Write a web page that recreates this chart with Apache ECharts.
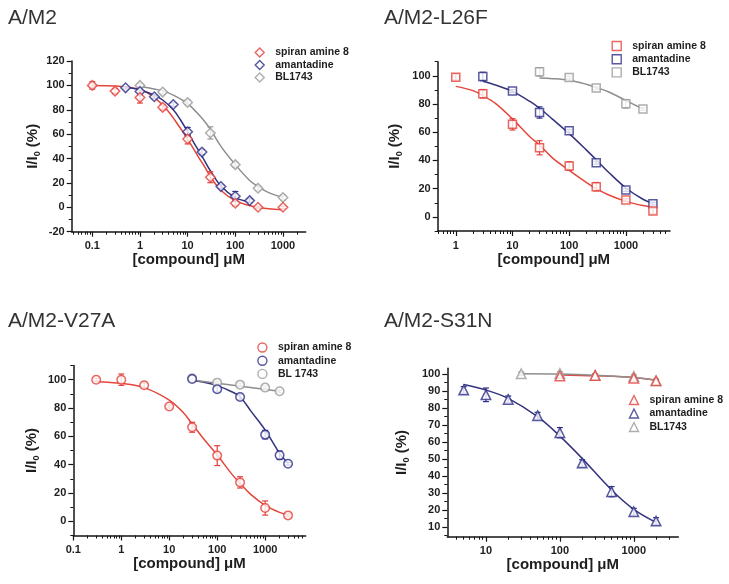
<!DOCTYPE html>
<html><head><meta charset="utf-8">
<script src="https://cdn.jsdelivr.net/npm/echarts@6/dist/echarts.min.js"></script>
<style>html,body{margin:0;padding:0;background:#fff}#c{width:729px;height:584px}</style>
</head><body><div id="c"></div>
<script>
// ---------- Panel 1: A/M2 ----------
const p1_spiran_x = [0.1, 0.3, 1, 3, 10, 30, 100, 300, 1000];
const p1_spiran_y = [100, 95.3, 90, 82, 56, 24.7, 3.3, 0, 0];
const p1_spiran_e = [3, 2, 4.5, 2, 4, 4.5, 2, 1, 1];
const p1_amant_x = [0.5, 1, 2, 5, 10, 20, 50, 100, 200];
const p1_amant_y = [98, 95, 90.7, 84.3, 62, 45.3, 17, 9, 5.5];
const p1_amant_e = [1, 3, 1.5, 1.5, 3.5, 2, 1.5, 4, 1.5];
const p1_bl_x = [1, 3, 10, 30, 100, 300, 1000];
const p1_bl_y = [100, 94.5, 86, 61, 35, 15.7, 8];
const p1_bl_e = [1.5, 1.5, 2, 5, 2, 2, 2];
const p1_fit_spiran_x = [0.1, 0.3, 1, 2, 3.5, 5.5, 10, 17, 23, 32, 50, 100, 250, 1000];
const p1_fit_spiran_y = [100, 99.5, 96.5, 90, 81, 71, 56, 41, 33, 23.5, 14, 5.5, 0.5, -2];
const p1_fit_amant_x = [0.5, 1, 2, 3, 5, 7, 10, 15, 20, 30, 50, 100, 200];
const p1_fit_amant_y = [98.5, 96.5, 92, 88, 80, 72, 62, 50, 42, 30, 17.5, 8, 4.5];
const p1_fit_bl_x = [1, 2, 3, 5, 10, 20, 30, 50, 100, 200, 300, 500, 1000];
const p1_fit_bl_y = [99, 97, 95.5, 92, 85, 73, 64, 50, 35, 22, 17, 12, 8];
const p1_xticks = [0.1, 1, 10, 100, 1000];
const p1_yticks = [-20, 0, 20, 40, 60, 80, 100, 120];
const p1_yminor = [-10, 10, 30, 50, 70, 90, 110];

// ---------- Panel 2: A/M2-L26F ----------
const p2_spiran_x = [1, 3, 10, 30, 100, 300, 1000, 3000];
const p2_spiran_y = [99, 87.3, 65.6, 49, 36, 21.4, 12, 4.2];
const p2_spiran_e = [2, 3, 4, 5, 3, 3, 1, 2];
const p2_amant_x = [3, 10, 30, 100, 300, 1000, 3000];
const p2_amant_y = [99.5, 89.2, 74, 61, 38.4, 19, 9.4];
const p2_amant_e = [3, 1, 4, 1, 1, 1, 1];
const p2_bl_x = [30, 100, 300, 1000, 2000];
const p2_bl_y = [102.8, 98.8, 91.3, 80.2, 76.5];
const p2_bl_e = [3, 1, 1, 3, 1];
const p2_fit_spiran_x = [1, 2, 3, 5, 10, 20, 30, 50, 100, 200, 300, 500, 1000, 2000, 3000];
const p2_fit_spiran_y = [92.5, 89.5, 86, 80.5, 69.5, 57, 51, 42, 33, 24.5, 20, 15.5, 11, 8, 7];
const p2_fit_amant_x = [3, 5, 10, 20, 30, 50, 100, 200, 300, 500, 1000, 2000, 3000];
const p2_fit_amant_y = [96.2, 93.5, 89, 82, 77, 69.5, 59, 47.5, 40.5, 31.5, 20.5, 12.5, 9.6];
const p2_fit_bl_x = [30, 50, 100, 200, 300, 500, 1000, 2000];
const p2_fit_bl_y = [98.4, 98, 96.8, 94, 91.7, 88.5, 82.5, 76.5];
const p2_xticks = [1, 10, 100, 1000];
const p2_yticks = [0, 20, 40, 60, 80, 100];
const p2_yminor = [-10, 10, 30, 50, 70, 90, 110];

// ---------- Panel 3: A/M2-V27A ----------
const p3_spiran_x = [0.3, 1, 3, 10, 30, 100, 300, 1000, 3000];
const p3_spiran_y = [100, 100, 96, 81, 66.4, 46.4, 27.5, 9.4, 4.2];
const p3_spiran_e = [1, 4, 2, 1, 3.5, 7, 4, 5, 1];
const p3_amant_x = [30, 100, 300, 1000, 2000, 3000];
const p3_amant_y = [100.5, 93.2, 87.8, 61.2, 46.6, 40.7];
const p3_amant_e = [1, 2, 2, 3, 3, 1];
const p3_bl_x = [30, 100, 300, 1000, 2000];
const p3_bl_y = [101, 97.9, 96.5, 94.4, 91.8];
const p3_bl_e = [1, 1, 1, 1, 1];
const p3_fit_spiran_x = [0.3, 1, 3, 10, 20, 30, 50, 100, 200, 300, 500, 1000, 2000, 3000];
const p3_fit_spiran_y = [98.6, 97.4, 94.4, 85.6, 76.5, 68.7, 59, 46.8, 33.5, 26.8, 19, 11.3, 6.3, 4.5];
const p3_fit_amant_x = [30, 50, 100, 200, 300, 500, 1000, 2000, 3000];
const p3_fit_amant_y = [99.3, 98.4, 95.8, 91.5, 88, 78, 64.5, 48, 41];
const p3_fit_bl_x = [30, 2000];
const p3_fit_bl_y = [99.8, 91.8];
const p3_xticks = [0.1, 1, 10, 100, 1000];
const p3_yticks = [0, 20, 40, 60, 80, 100];
const p3_yminor = [-10, 10, 30, 50, 70, 90, 110];

// ---------- Panel 4: A/M2-S31N ----------
const p4_spiran_x = [100, 300, 1000, 2000];
const p4_spiran_y = [98.8, 99.2, 97.6, 96];
const p4_spiran_e = [1, 1, 1, 1];
const p4_amant_x = [5, 10, 20, 50, 100, 200, 500, 1000, 2000];
const p4_amant_y = [90.6, 87.8, 85.1, 75.5, 65.5, 47.6, 30.8, 19, 13.5];
const p4_amant_e = [2, 4, 2, 2, 3, 2, 3, 2, 2];
const p4_bl_x = [30, 100, 300, 1000, 2000];
const p4_bl_y = [100.2, 100.4, 99.2, 98.6, 96];
const p4_bl_e = [1, 1, 1, 1, 1];
const p4_fit_spiran_x = [100, 300, 1000, 2000];
const p4_fit_spiran_y = [99.5, 99, 98, 96.3];
const p4_fit_amant_x = [5, 10, 20, 50, 100, 200, 500, 1000, 2000];
const p4_fit_amant_y = [93.9, 90.6, 85.7, 74.9, 63.5, 50.4, 31.8, 20.4, 12.7];
const p4_fit_bl_x = [30, 100, 300, 1000, 2000];
const p4_fit_bl_y = [100.2, 100, 99.3, 98, 96.3];
const p4_xticks = [10, 100, 1000];
const p4_yticks = [10, 20, 30, 40, 50, 60, 70, 80, 90, 100];
const p4_yminor = [5, 15, 25, 35, 45, 55, 65, 75, 85, 95];

const titles = ['A/M2', 'A/M2-L26F', 'A/M2-V27A', 'A/M2-S31N'];
const names_spiran = 'spiran amine 8';
const names_amant = 'amantadine';
const names_bl = ['BL1743', 'BL1743', 'BL 1743', 'BL1743'];

// ---------- styling / layout ----------
const FONT = '"Liberation Sans", Arial, Helvetica, sans-serif';
const RED = '#e3403a', NAVY = '#2e2e88', GRAY = '#9a9a9a';
const RED_L = '#e5463c', NAVY_L = '#33337f', GRAY_L = '#8e8e8e';
const AX = '#151515';

const layout = [
  {grid:{left:71.7, top:61, width:234, height:170.7}, xmin:0.037, xmax:3000, ymin:-20, ymax:120, symbol:'diamond', ssize:9.5,
   title:{left:8, top:8}, legend:{cx:259, top:47, gap:1.5}, ynameGap:30},
  {grid:{left:437.7, top:61.7, width:232.3, height:169.3}, xmin:0.48, xmax:6000, ymin:-10, ymax:110, symbol:'rect', ssize:8,
   title:{left:384, top:8}, legend:{cx:616, top:40.5, gap:2.2}, ynameGap:34},
  {grid:{left:73.3, top:365.5, width:232.4, height:170}, xmin:0.1, xmax:7000, ymin:-10, ymax:110, symbol:'circle', ssize:8.5,
   title:{left:8, top:311}, legend:{cx:261.7, top:342, gap:2.2}, ynameGap:32},
  {grid:{left:447.3, top:368.3, width:231, height:168.4}, xmin:3, xmax:4000, ymin:4.3, ymax:103.4, symbol:'triangle', ssize:9.5,
   title:{left:384, top:311}, legend:{cx:633.3, top:394.5, gap:2.5}, ynameGap:36}
];

const panels = [
  {xt:p1_xticks, yt:p1_yticks, ym:p1_yminor,
   pts:[[p1_spiran_x,p1_spiran_y,p1_spiran_e],[p1_amant_x,p1_amant_y,p1_amant_e],[p1_bl_x,p1_bl_y,p1_bl_e]],
   fits:[[p1_fit_spiran_x,p1_fit_spiran_y],[p1_fit_amant_x,p1_fit_amant_y],[p1_fit_bl_x,p1_fit_bl_y]]},
  {xt:p2_xticks, yt:p2_yticks, ym:p2_yminor,
   pts:[[p2_spiran_x,p2_spiran_y,p2_spiran_e],[p2_amant_x,p2_amant_y,p2_amant_e],[p2_bl_x,p2_bl_y,p2_bl_e]],
   fits:[[p2_fit_spiran_x,p2_fit_spiran_y],[p2_fit_amant_x,p2_fit_amant_y],[p2_fit_bl_x,p2_fit_bl_y]]},
  {xt:p3_xticks, yt:p3_yticks, ym:p3_yminor,
   pts:[[p3_spiran_x,p3_spiran_y,p3_spiran_e],[p3_amant_x,p3_amant_y,p3_amant_e],[p3_bl_x,p3_bl_y,p3_bl_e]],
   fits:[[p3_fit_spiran_x,p3_fit_spiran_y],[p3_fit_amant_x,p3_fit_amant_y],[p3_fit_bl_x,p3_fit_bl_y]]},
  {xt:p4_xticks, yt:p4_yticks, ym:p4_yminor,
   pts:[[p4_spiran_x,p4_spiran_y,p4_spiran_e],[p4_amant_x,p4_amant_y,p4_amant_e],[p4_bl_x,p4_bl_y,p4_bl_e]],
   fits:[[p4_fit_spiran_x,p4_fit_spiran_y],[p4_fit_amant_x,p4_fit_amant_y],[p4_fit_bl_x,p4_fit_bl_y]]}
];

function logMinors(min, max) {
  const out = [];
  for (let k = Math.floor(Math.log10(min)); k <= Math.ceil(Math.log10(max)); k++) {
    for (let m = 2; m <= 9; m++) {
      const v = m * Math.pow(10, k);
      if (v > min && v < max) out.push(v);
    }
  }
  return out;
}
function zip2(a, b) { return a.map((v, i) => [v, b[i]]); }
function zip3(a, b, c) { return a.map((v, i) => [v, b[i], c[i]]); }
function fmtNum(v) { return String(Number(Number(v).toPrecision(3))); }

function errRender(color) {
  return function (params, api) {
    const x = api.value(0), y = api.value(1), e = api.value(2);
    const top = api.coord([x, y + e]);
    const bot = api.coord([x, y - e]);
    const w = 3;
    const style = {stroke: color, lineWidth: 1.2, fill: null};
    return {type: 'group', children: [
      {type: 'line', shape: {x1: top[0], y1: top[1], x2: bot[0], y2: bot[1]}, style: style},
      {type: 'line', shape: {x1: top[0] - w, y1: top[1], x2: top[0] + w, y2: top[1]}, style: style},
      {type: 'line', shape: {x1: bot[0] - w, y1: bot[1], x2: bot[0] + w, y2: bot[1]}, style: style}
    ]};
  };
}

const option = {
  backgroundColor: '#fff', animation: false,
  title: [], legend: [], grid: [], xAxis: [], yAxis: [], series: []
};

const tickLabelStyle = {fontSize: 11, fontWeight: 'bold', color: '#1e1e1e', fontFamily: FONT};

panels.forEach((p, i) => {
  const L = layout[i];
  option.grid.push(Object.assign({containLabel: false}, L.grid));
  option.title.push({text: titles[i], left: L.title.left, top: L.title.top, padding: 0,
    textStyle: {fontSize: 21, fontWeight: 'normal', color: '#333', fontFamily: FONT}});

  const xa = option.xAxis.length, ya = option.yAxis.length;
  option.xAxis.push({
    type: 'log', logBase: 10, gridIndex: i, min: L.xmin, max: L.xmax, position: 'bottom',
    axisLine: {show: true, onZero: false, lineStyle: {color: AX, width: 1.5}},
    axisTick: {show: true, inside: false, length: 5, customValues: p.xt, lineStyle: {color: AX, width: 1.2}},
    axisLabel: {show: true, customValues: p.xt, margin: 9, formatter: fmtNum, ...tickLabelStyle},
    splitLine: {show: false}, minorTick: {show: false},
    name: '[compound] \u03bcM', nameLocation: 'middle', nameGap: 19,
    nameTextStyle: {fontSize: 15, fontWeight: 'bold', color: '#1e1e1e', fontFamily: FONT}
  });
  option.xAxis.push({
    type: 'log', logBase: 10, gridIndex: i, min: L.xmin, max: L.xmax, position: 'bottom',
    axisLine: {show: false, onZero: false},
    axisTick: {show: true, inside: false, length: 3, customValues: logMinors(L.xmin, L.xmax), lineStyle: {color: AX, width: 1}},
    axisLabel: {show: false}, splitLine: {show: false}
  });
  option.yAxis.push({
    type: 'value', gridIndex: i, min: L.ymin, max: L.ymax, position: 'left',
    axisLine: {show: true, onZero: false, lineStyle: {color: AX, width: 1.5}},
    axisTick: {show: true, inside: false, length: 5, customValues: p.yt, lineStyle: {color: AX, width: 1.2}},
    axisLabel: {show: true, customValues: p.yt, margin: 7, ...tickLabelStyle},
    splitLine: {show: false},
    name: 'I/I{s|0} (%)', nameLocation: 'middle', nameGap: L.ynameGap,
    nameTextStyle: {fontSize: 15, fontWeight: 'bold', color: '#1e1e1e', fontFamily: FONT, lineHeight: 18,
      rich: {s: {fontSize: 9, fontWeight: 'bold', color: '#1e1e1e', fontFamily: FONT, verticalAlign: 'bottom', lineHeight: 9}}}
  });
  option.yAxis.push({
    type: 'value', gridIndex: i, min: L.ymin, max: L.ymax, position: 'left',
    axisLine: {show: false, onZero: false},
    axisTick: {show: true, inside: false, length: 3, customValues: p.ym, lineStyle: {color: AX, width: 1}},
    axisLabel: {show: false}, splitLine: {show: false}
  });

  const cols = [RED, NAVY, GRAY], lcols = [RED_L, NAVY_L, GRAY_L];
  const nm = [names_spiran, names_amant, names_bl[i]].map(n => n + '#' + i);
  p.fits.forEach((f, k) => {
    option.series.push({type: 'line', name: 'fit' + k + '#' + i, xAxisIndex: xa, yAxisIndex: ya,
      data: zip2(f[0], f[1]), smooth: 0.35, showSymbol: false, symbol: 'none', silent: true, z: 2,
      lineStyle: {color: lcols[k], width: 1.5}});
  });
  p.pts.forEach((d, k) => {
    option.series.push({type: 'custom', name: 'err' + k + '#' + i, xAxisIndex: xa, yAxisIndex: ya,
      data: zip3(d[0], d[1], d[2]), encode: {x: 0, y: 1}, renderItem: errRender(cols[k]), silent: true, z: 3});
  });
  p.pts.forEach((d, k) => {
    option.series.push({type: 'scatter', name: nm[k], xAxisIndex: xa, yAxisIndex: ya,
      data: zip2(d[0], d[1]), symbol: L.symbol, symbolSize: L.ssize, z: 4 + (2 - k),
      itemStyle: {color: '#ffffff', borderColor: cols[k], borderWidth: 1.5}});
  });
  option.legend.push({
    left: L.legend.cx - 4.5, top: L.legend.top, orient: 'vertical', padding: 0,
    itemWidth: 9, itemHeight: 9, itemGap: L.legend.gap, selectedMode: false,
    formatter: n => n.split('#')[0],
    textStyle: {fontSize: 10.5, fontWeight: 'bold', color: '#1e1e1e', fontFamily: FONT, lineHeight: 9, padding: [0, 0, 0, 6]},
    data: nm.map((n, k) => ({name: n, icon: L.symbol,
      itemStyle: {color: '#ffffff', borderColor: cols[k], borderWidth: 1.4}}))
  });
});

const chart = echarts.init(document.getElementById('c'), null, {renderer: 'canvas'});
chart.setOption(option);
</script></body></html>
